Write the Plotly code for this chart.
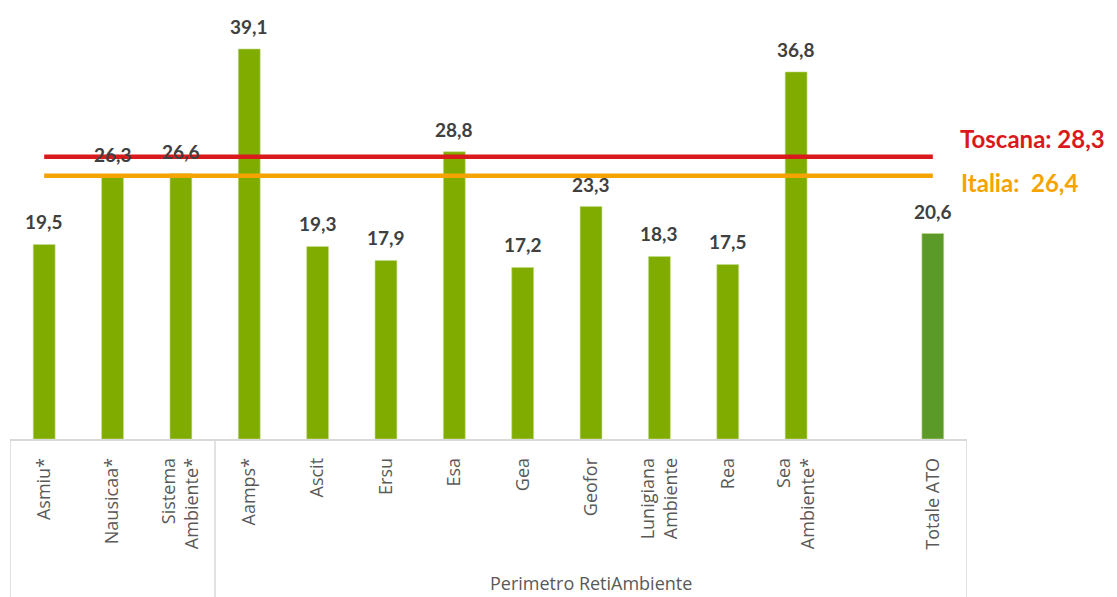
import plotly.graph_objects as go

categories = ["Asmiu*", "Nausicaa*", "Sistema<br>Ambiente*", "Aamps*", "Ascit", "Ersu", "Esa",
              "Gea", "Geofor", "Lunigiana<br>Ambiente", "Rea", "Sea<br>Ambiente*", "", "Totale ATO"]
values = [19.5, 26.3, 26.6, 39.1, 19.3, 17.9, 28.8, 17.2, 23.3, 18.3, 17.5, 36.8, None, 20.6]
value_labels = ["19,5", "26,3", "26,6", "39,1", "19,3", "17,9", "28,8", "17,2", "23,3", "18,3",
                "17,5", "36,8", "", "20,6"]
toscana = 28.3
italia = 26.4
toscana_label = "Toscana: 28,3"
italia_label = "Italia:  26,4"
group_label = "Perimetro RetiAmbiente"

xpos = list(range(len(categories)))
bar_x = [x for x, v in zip(xpos, values) if v is not None]
bar_y = [v for v in values if v is not None]
bar_colors = ["#5B9A28" if categories[x] == "Totale ATO" else "#80AC00" for x in bar_x]

fig = go.Figure()
fig.add_trace(go.Bar(x=bar_x, y=bar_y, marker=dict(color=bar_colors, line=dict(color="#C5DE8A", width=0.6)),
                     width=0.32, hoverinfo="skip"))
fig.add_trace(go.Scatter(x=[0, 13], y=[toscana, toscana], mode="lines",
                         line=dict(color="#D9191C", width=4.5), hoverinfo="skip"))
fig.add_trace(go.Scatter(x=[0, 13], y=[italia, italia], mode="lines",
                         line=dict(color="#F5A300", width=4.5), hoverinfo="skip"))

annotations = []
for x, v, t in zip(xpos, values, value_labels):
    if v is None:
        continue
    annotations.append(dict(x=x, y=v, text=t, showarrow=False, yanchor="bottom", yshift=9,
                            font=dict(family="Lato", size=19, color="#404040", weight="bold")))
annotations.append(dict(x=13.5, xanchor="left", y=toscana, yshift=18, xshift=-9, text=toscana_label,
                        showarrow=False, font=dict(family="Lato", size=24, color="#D9191C", weight="bold")))
annotations.append(dict(x=13.5, xanchor="left", y=italia, yshift=-7, xshift=-8, text=italia_label,
                        showarrow=False, font=dict(family="Lato", size=24, color="#F5A300", weight="bold")))
annotations.append(dict(x=8, y=-0.362, yref="paper", text=group_label, showarrow=False,
                        yanchor="middle", font=dict(family="Open Sans", size=18, color="#595959")))

shapes = []
for xb in [-0.5, 2.5, 13.5]:
    shapes.append(dict(type="line", xref="x", yref="paper", x0=xb, x1=xb, y0=0, y1=-0.42,
                       line=dict(color="#D9D9D9", width=1.5)))

fig.update_layout(
    width=1117, height=597,
    margin=dict(l=10, r=150, t=40, b=158, autoexpand=False),
    plot_bgcolor="white", paper_bgcolor="white",
    showlegend=False,
    annotations=annotations,
    shapes=shapes,
    xaxis=dict(range=[-0.5, 13.5], tickmode="array", tickvals=xpos, ticktext=categories,
               tickangle=-90, showgrid=False, zeroline=False, showline=True, linecolor="#D9D9D9",
               linewidth=1.5, ticks="", ticklabelstandoff=10, automargin=False,
               tickfont=dict(family="Open Sans", size=18, color="#595959")),
    yaxis=dict(range=[0, 40], visible=False, showgrid=False, zeroline=False),
)

fig.write_html("out.html", config={"displayModeBar": False},
               post_script="document.body.style.margin='0';document.body.style.overflow='hidden';")
